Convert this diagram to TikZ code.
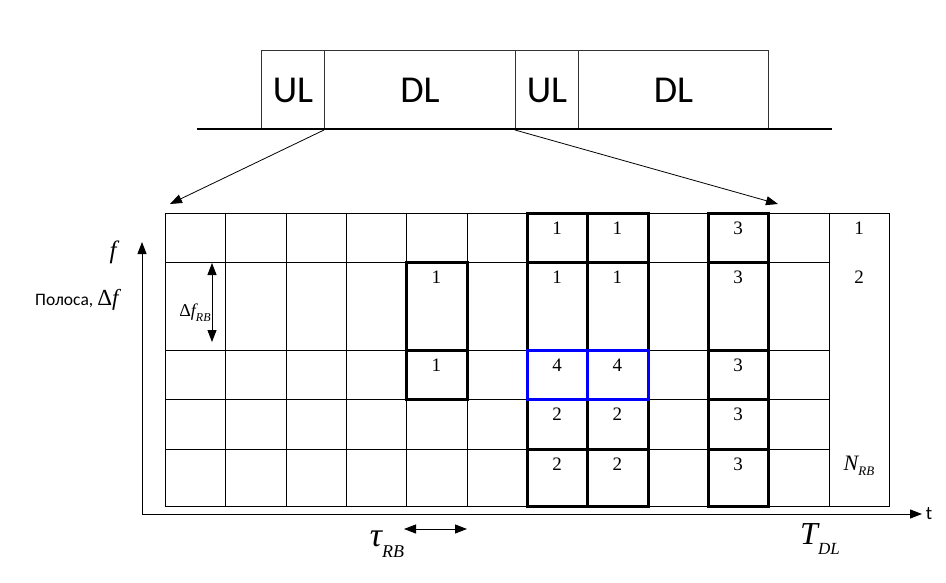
\documentclass[tikz,border=0pt]{standalone}
\usepackage{fontspec}
\setmainfont{Liberation Serif}
\newfontfamily\calib{Carlito}
\usetikzlibrary{arrows.meta}
\newcommand\lowidx[3]{\raisebox{-#1}{\fontsize{#2}{#2}\selectfont\itshape #3}}
\begin{document}
\begin{tikzpicture}[x=1pt,y=-1pt,
  slotbox/.style={draw=black!80,line width=1pt,minimum height=79pt,inner sep=0pt,anchor=north west,font=\calib\fontsize{38}{38}\selectfont},
  cell/.style={line width=0.8pt},
  bold/.style={line width=2.6pt},
  num/.style={font=\fontsize{19}{19}\selectfont},
  tip/.style={-{Triangle[length=12pt,width=9pt]},line width=1pt},
  dtip/.style={{Triangle[length=12pt,width=9pt]}-{Triangle[length=12pt,width=9pt]},line width=1pt}]
\useasboundingbox (0,0) rectangle (946,583);
% frame on top
\node[slotbox,minimum width=63pt] (ul1) at (261,50) {UL};
\node[slotbox,minimum width=191pt] (dl1) at (324,50) {DL\hspace{28pt}};
\node[slotbox,minimum width=63pt] (ul2) at (515,50) {UL};
\node[slotbox,minimum width=190pt] (dl2) at (578,50) {DL};
\draw[line width=2pt] (197,129) -- (832,129);
\coordinate (gl) at (170,204);
\coordinate (gr) at (778,204);
\draw[tip,line width=0.8pt] (dl1.south west) -- (gl);
\draw[tip,line width=0.8pt] (ul2.south west) -- (gr);
% resource grid
\draw[cell] (165.5,213.5) rectangle (889.5,506.5);
\foreach \i in {1,...,11}
  \draw[cell] ({165.5+round(60.33*\i)},213) -- ({165.5+round(60.33*\i)},506);
\foreach \y in {262,350,399,449}
  \draw[cell] (165,\y+0.5) -- (829,\y+0.5);
\foreach \c/\ya/\yb in {4/262/350,4/350/399,
    6/213/262,6/262/350,6/399/449,6/449/506,
    7/213/262,7/262/350,7/399/449,7/449/506,
    9/213/262,9/262/350,9/350/399,9/399/449,9/449/506}
  \draw[bold] ({165.5+round(60.33*\c)},\ya+0.5) rectangle ({165.5+round(60.33*(\c+1))},\yb+0.5);
\foreach \c in {6,7}
  \draw[bold,blue] ({165.5+round(60.33*\c)},350.5) rectangle ({165.5+round(60.33*(\c+1))},399.5);
\foreach \c/\y/\t in {4/262/1,4/350/1,
    6/213/1,7/213/1,6/262/1,7/262/1,6/350/4,7/350/4,
    6/399/2,7/399/2,6/449/2,7/449/2,
    9/213/3,9/262/3,9/350/3,9/399/3,9/449/3}
  \node[num] (n-\c-\y) at ({165+60.33*(\c+0.5)},\y+15) {\t};
\node[num] (k1) at (859,228) {1};
\node[num] (k2) at (859,277) {2};
\node (nrb) at (859,466) {\fontsize{22}{22}\selectfont\itshape N\lowidx{5pt}{13}{RB}};
% axes
\coordinate (o) at (142,514);
\coordinate (ftop) at (142,242);
\coordinate (tend) at (922,514);
\draw[tip] (o) -- (ftop);
\draw[tip] (o) -- (tend);
\node[font=\calib\fontsize{19}{19}\selectfont] (tlab) at (929,514) {t};
\node (flab) at (113,252) {\fontsize{25}{25}\selectfont\itshape f};
\node[anchor=east] (band) at (122,300) {\calib\fontsize{17.5}{17.5}\selectfont Полоса,\ \fontsize{23}{23}\selectfont\rmfamily Δ\itshape f};
% sizes of one block
\coordinate (fb1) at (212,263);
\coordinate (fb2) at (212,342);
\draw[dtip] (fb1) -- (fb2);
\node (dfrb) at (195,313) {\fontsize{18}{18}\selectfont Δ\itshape f\lowidx{5pt}{12}{RB}};
\coordinate (tb1) at (404,529);
\coordinate (tb2) at (467,529);
\draw[dtip] (tb1) -- (tb2);
\node (taurb) at (387,544) {\fontsize{34}{34}\selectfont\itshape τ\lowidx{11pt}{18}{RB}};
\node (tdl) at (820,539) {\fontsize{32}{32}\selectfont\itshape T\lowidx{10pt}{17}{DL}};
\end{tikzpicture}
\end{document}
